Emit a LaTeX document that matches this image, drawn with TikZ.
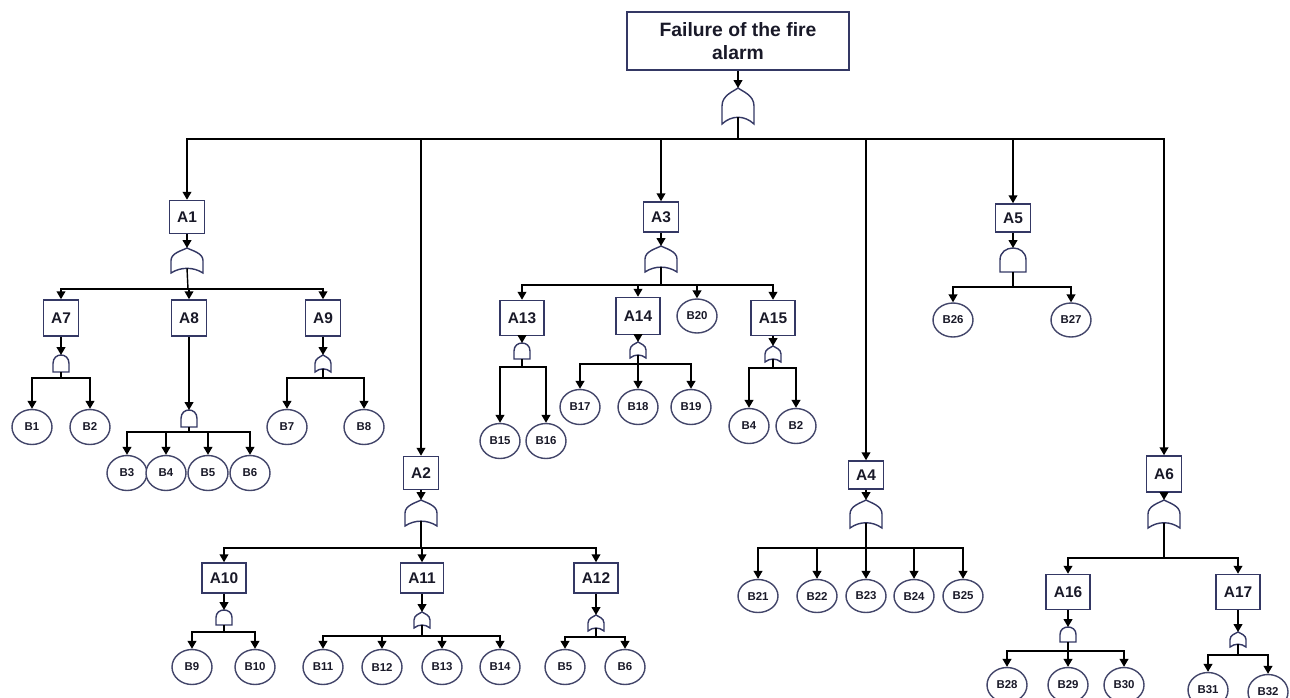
\documentclass[tikz,border=0pt]{standalone}
\usepackage{fontspec}
\setmainfont{Liberation Sans}
\usetikzlibrary{shapes.geometric,arrows.meta}
\definecolor{navy}{RGB}{52,56,100}
\definecolor{ink}{RGB}{25,25,40}
\tikzset{
  evbox/.style={draw=navy, line width=0.9pt, fill=white, text=ink, font=\fontsize{8.8}{10}\selectfont\bfseries, minimum height=0.66cm, inner xsep=4.3pt},
  basic/.style={ellipse, draw=navy!80!gray, line width=0.8pt, fill=white, text=ink, font=\fontsize{6.5}{8}\selectfont\bfseries, minimum width=0.8cm, minimum height=0.7cm, inner sep=0pt},
  arr/.style={-{Triangle[length=4.5pt,width=5pt]}, line width=0.8pt},
  wire/.style={line width=0.8pt},
  pics/orgate/.style 2 args={code={
    \draw[draw=navy, line width=0.8pt, fill=white] (-#1/2,#2) -- (-#1/2,0.5*#2)
      .. controls (-#1/2,0.2*#2) and (-0.15*#1,0.1*#2) .. (0,0)
      .. controls (0.15*#1,0.1*#2) and (#1/2,0.2*#2) .. (#1/2,0.5*#2) -- (#1/2,#2)
      .. controls (0.2*#1,0.75*#2) and (-0.2*#1,0.75*#2) .. (-#1/2,#2) -- cycle;
    \coordinate (-in) at (0,0);
    \coordinate (-out) at (0,0.81*#2);
  }},
  pics/andgate/.style 2 args={code={
    \draw[draw=navy, line width=0.8pt, fill=white] (-#1/2,#2) -- (-#1/2,0.5*#2)
      .. controls (-#1/2,-0.167*#2) and (#1/2,-0.167*#2) .. (#1/2,0.5*#2) -- (#1/2,#2) -- cycle;
    \coordinate (-in) at (0,0);
    \coordinate (-out) at (0,#2);
  }}
}
\begin{document}
\begin{tikzpicture}[x=0.02cm, y=-0.02cm]
  \useasboundingbox[fill=white] (0,0) rectangle (1290,697);
  % top event
  \node[evbox, font=\fontsize{11}{13}\selectfont\bfseries, minimum width=4.44cm, minimum height=1.16cm, align=center] (top) at (738,41) {Failure of the fire\\alarm};
  \pic (g0) at (738,88) {orgate={32}{36}};
  \coordinate (j0) at (738,139);
  \draw[arr] (top) -- (g0-in);
  \draw[wire] (g0-out) -- (j0);
  % intermediate events
  \node[evbox] (a1) at (187,217) {A1};
  \node[evbox] (a2) at (421,473) {A2};
  \node[evbox, minimum height=0.6cm] (a3) at (661,217) {A3};
  \node[evbox, minimum height=0.56cm] (a4) at (866,475) {A4};
  \node[evbox, minimum height=0.56cm] (a5) at (1013,218) {A5};
  \node[evbox, minimum height=0.72cm] (a6) at (1164,474) {A6};
  \foreach \a in {a1,a2,a3,a4,a5,a6} \draw[arr] (j0) -| (\a);
  % A1 branch
  \pic (g1) at (187,248) {orgate={32}{25}};
  \coordinate (j1) at (188,289);
  \draw[arr] (a1) -- (g1-in);
  \draw[wire] (g1-out) -- (j1);
  \node[evbox, minimum height=0.72cm] (a7) at (61,318) {A7};
  \node[evbox, minimum height=0.72cm] (a8) at (189,318) {A8};
  \node[evbox, minimum height=0.72cm] (a9) at (323,318) {A9};
  \foreach \a in {a7,a8,a9} \draw[arr] (j1) -| (\a);
  \pic (g7) at (61,355) {andgate={16}{17}};
  \pic (g8) at (189,410) {andgate={16}{17}};
  \pic (g9) at (323,355) {orgate={16}{17}};
  \coordinate (j7) at (61,378);
  \coordinate (j8) at (189,432);
  \coordinate (j9) at (323,378);
  \foreach \g in {7,8,9} {
    \draw[arr] (a\g) -- (g\g-in);
    \draw[wire] (g\g-out) -- (j\g);
  }
  \foreach \lab/\x in {B1/32,B2/90} {\node[basic] (\lab a7) at (\x,427) {\lab}; \draw[arr] (j7) -| (\lab a7);}
  \foreach \lab/\x in {B3/127,B4/166,B5/208,B6/250} {\node[basic] (\lab a8) at (\x,473) {\lab}; \draw[arr] (j8) -| (\lab a8);}
  \foreach \lab/\x in {B7/287,B8/364} {\node[basic] (\lab a9) at (\x,427) {\lab}; \draw[arr] (j9) -| (\lab a9);}
  % A3 branch
  \pic (g3) at (661,246) {orgate={32}{26}};
  \coordinate (j3) at (661,285);
  \draw[arr] (a3) -- (g3-in);
  \draw[wire] (g3-out) -- (j3);
  \node[evbox, minimum height=0.7cm] (a13) at (522,318) {A13};
  \node[evbox, minimum height=0.74cm] (a14) at (638,316) {A14};
  \node[evbox, minimum height=0.7cm] (a15) at (773,318) {A15};
  \node[basic, minimum height=0.68cm] (b20) at (697,316) {B20};
  \foreach \a in {a13,a14,b20,a15} \draw[arr] (j3) -| (\a);
  \pic (g13) at (522,343) {andgate={16}{16}};
  \pic (g14) at (638,342) {orgate={16}{16}};
  \pic (g15) at (773,346) {orgate={16}{16}};
  \coordinate (j13) at (522,367);
  \coordinate (j14) at (638,364);
  \coordinate (j15) at (773,368);
  \foreach \g in {13,14,15} {
    \draw[arr] (a\g) -- (g\g-in);
    \draw[wire] (g\g-out) -- (j\g);
  }
  \foreach \lab/\x in {B15/500,B16/546} {\node[basic] (\lab a13) at (\x,441) {\lab}; \draw[arr] (j13) -| (\lab a13);}
  \foreach \lab/\x in {B17/580,B18/638,B19/691} {\node[basic] (\lab a14) at (\x,407) {\lab}; \draw[arr] (j14) -| (\lab a14);}
  \foreach \lab/\x in {B4/749,B2/796} {\node[basic] (\lab a15) at (\x,426) {\lab}; \draw[arr] (j15) -| (\lab a15);}
  % A5 branch
  \pic (g5) at (1013,248) {andgate={26}{24}};
  \coordinate (j5) at (1013,287);
  \draw[arr] (a5) -- (g5-in);
  \draw[wire] (g5-out) -- (j5);
  \foreach \lab/\x in {B26/953,B27/1071} {\node[basic, minimum height=0.68cm] (\lab a5) at (\x,320) {\lab}; \draw[arr] (j5) -| (\lab a5);}
  % A2 branch
  \pic (g2) at (421,500) {orgate={32}{26}};
  \coordinate (j2) at (421,548);
  \draw[arr] (a2) -- (g2-in);
  \draw[wire] (g2-out) -- (j2);
  \node[evbox, minimum height=0.6cm] (a10) at (224,578) {A10};
  \node[evbox, minimum height=0.6cm] (a11) at (422,578) {A11};
  \node[evbox, minimum height=0.6cm] (a12) at (596,578) {A12};
  \foreach \a in {a10,a11,a12} \draw[arr] (j2) -| (\a);
  \pic (g10) at (224,610) {andgate={16}{15}};
  \pic (g11) at (422,612) {orgate={16}{16}};
  \pic (g12) at (596,615) {orgate={16}{16}};
  \coordinate (j10) at (224,632);
  \coordinate (j11) at (422,636);
  \coordinate (j12) at (596,637);
  \foreach \g in {10,11,12} {
    \draw[arr] (a\g) -- (g\g-in);
    \draw[wire] (g\g-out) -- (j\g);
  }
  \foreach \lab/\x in {B9/192,B10/255} {\node[basic] (\lab a10) at (\x,667) {\lab}; \draw[arr] (j10) -| (\lab a10);}
  \foreach \lab/\x in {B11/323,B12/382,B13/442,B14/500} {\node[basic] (\lab a11) at (\x,667) {\lab}; \draw[arr] (j11) -| (\lab a11);}
  \foreach \lab/\x in {B5/565,B6/625} {\node[basic] (\lab a12) at (\x,667) {\lab}; \draw[arr] (j12) -| (\lab a12);}
  % A4 branch
  \pic (g4) at (866,500) {orgate={32}{28}};
  \coordinate (j4) at (866,548);
  \draw[arr] (a4) -- (g4-in);
  \draw[wire] (g4-out) -- (j4);
  \foreach \lab/\x in {B21/758,B22/817,B23/866,B24/914,B25/963} {\node[basic, minimum height=0.66cm] (\lab a4) at (\x,596) {\lab}; \draw[arr] (j4) -| (\lab a4);}
  % A6 branch
  \pic (g6) at (1164,500) {orgate={32}{28}};
  \coordinate (j6) at (1164,558);
  \draw[arr] (a6) -- (g6-in);
  \draw[wire] (g6-out) -- (j6);
  \node[evbox, minimum height=0.7cm] (a16) at (1068,592) {A16};
  \node[evbox, minimum height=0.7cm] (a17) at (1238,592) {A17};
  \foreach \a in {a16,a17} \draw[arr] (j6) -| (\a);
  \pic (g16) at (1068,627) {andgate={16}{15}};
  \pic (g17) at (1238,632) {orgate={16}{15}};
  \coordinate (j16) at (1068,651);
  \coordinate (j17) at (1238,655);
  \foreach \g in {16,17} {
    \draw[arr] (a\g) -- (g\g-in);
    \draw[wire] (g\g-out) -- (j\g);
  }
  \foreach \lab/\x in {B28/1007,B29/1068,B30/1124} {\node[basic] (\lab a16) at (\x,685) {\lab}; \draw[arr] (j16) -| (\lab a16);}
  \node[basic] (B31a17) at (1208,690) {B31};
  \node[basic] (B32a17) at (1268,692) {B32};
  \foreach \b in {B31a17,B32a17} \draw[arr] (j17) -| (\b);
\end{tikzpicture}
\end{document}
